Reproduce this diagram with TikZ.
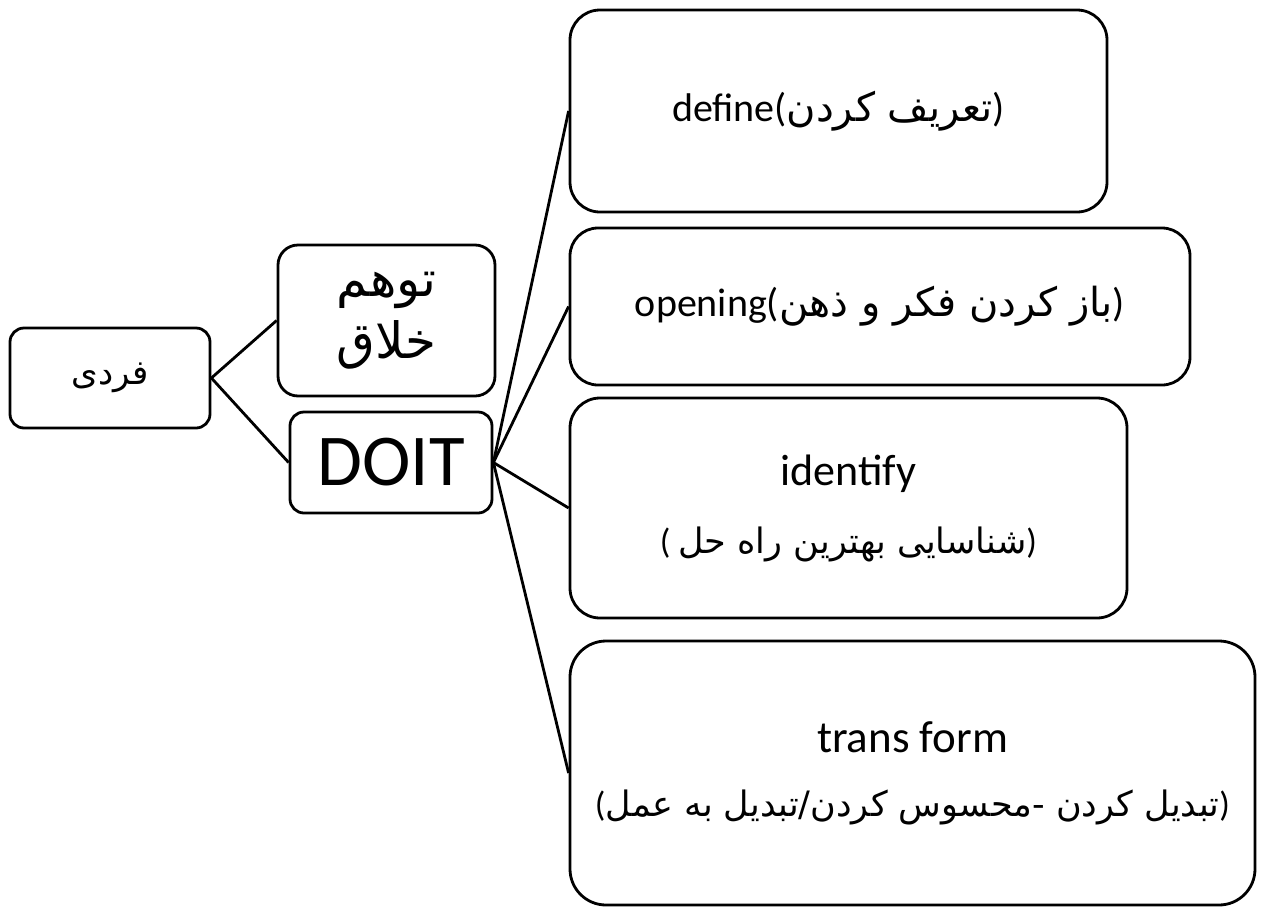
\documentclass[tikz,border=0pt]{standalone}
\usepackage{fontspec}
\setmainfont{Carlito}
\newfontfamily\arabicfont[Script=Arabic]{DejaVu Sans}
\TeXXeTstate=1
\newcommand{\farsitxt}[1]{{\arabicfont\beginR #1\endR}}
\begin{document}
\begin{tikzpicture}[x=1pt,y=-1pt,
  box/.style={draw, line width=2.8pt, rounded corners=#1, inner sep=0pt, align=center},
  box/.default=14pt,
  link/.style={line width=2.8pt}]
\useasboundingbox (0,0) rectangle (1264,911);
\node[box, minimum width=200pt, minimum height=100pt, font=\fontsize{34}{40}\selectfont] (fardi) at (110,378)
  {\farsitxt{فردی}};
\node[box=20pt, minimum width=217pt, minimum height=151pt, font=\fontsize{50}{62}\selectfont] (tav) at (386.5,320.5)
  {\farsitxt{توهم}\\\farsitxt{خلاق}};
\node[box, minimum width=202pt, minimum height=101pt, font=\fontsize{73}{80}\selectfont] (doit) at (391,462.5)
  {DOIT};
\node[box=30pt, minimum width=537pt, minimum height=202pt, font=\fontsize{40}{48}\selectfont] (define) at (838.5,111)
  {define(\farsitxt{تعریف کردن})};
\node[box=28pt, minimum width=620pt, minimum height=157pt, font=\fontsize{40}{48}\selectfont] (opening) at (880,306.5)
  {opening(\farsitxt{باز کردن فکر و ذهن})};
\node[box=30pt, minimum width=557pt, minimum height=220pt, font=\fontsize{44}{68}\selectfont] (identify) at (848.5,508)
  {identify\\{\fontsize{35}{68}\selectfont ( \farsitxt{شناسایی بهترین راه حل})}};
\node[box=36pt, minimum width=685pt, minimum height=264pt, font=\fontsize{45}{64}\selectfont] (transform) at (912.5,773)
  {trans form\\{\fontsize{35}{64}\selectfont (\farsitxt{تبدیل کردن \kern0pt-\kern0pt محسوس کردن\kern0pt/\kern0pt تبدیل به عمل})}};
\draw[link] (fardi.east) -- (tav.west);
\draw[link] (fardi.east) -- (doit.west);
\draw[link] (doit.east) -- (define.west);
\draw[link] (doit.east) -- (opening.west);
\draw[link] (doit.east) -- (identify.west);
\draw[link] (doit.east) -- (transform.west);
\end{tikzpicture}
\end{document}
